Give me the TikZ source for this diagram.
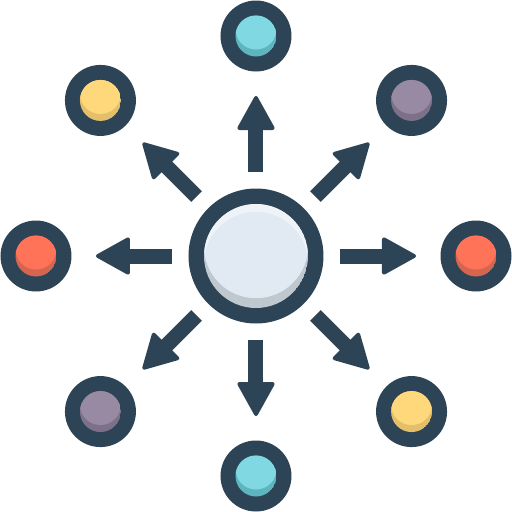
\documentclass[tikz,border=0pt]{standalone}
\definecolor{navy}{HTML}{2D4356}
\definecolor{cyanA}{HTML}{7FD8E2}
\definecolor{cyanB}{HTML}{5DB5BE}
\definecolor{plumA}{HTML}{978AA2}
\definecolor{plumB}{HTML}{7D7089}
\definecolor{coralA}{HTML}{FF7359}
\definecolor{coralB}{HTML}{D6654F}
\definecolor{sunA}{HTML}{FFD87C}
\definecolor{sunB}{HTML}{E3BF6B}
\definecolor{hubA}{HTML}{E1EAF3}
\definecolor{hubB}{HTML}{EEF3F8}
\definecolor{hubC}{HTML}{C0C8CF}
\tikzset{ring/.style={fill=navy}, arrowhead/.style={fill=navy, rounded corners=3.5pt}}

\begin{document}
\begin{tikzpicture}[x=1pt,y=1pt]
\useasboundingbox (-256,-256) rectangle (256,256);

\fill[ring] (0,0) circle (67.5pt);
\begin{scope}
\clip (0,0) circle (52pt);
\fill[hubC] (0,0) circle (52pt);
\fill[hubB] (0,10) circle (52pt);
\clip (0,10) circle (52pt);
\fill[hubA] (0,-8) circle (52pt);
\end{scope}

\foreach \ang/\main/\shade in {90/cyanA/cyanB, 45/plumA/plumB, 0/coralA/coralB, -45/sunA/sunB,
  -90/cyanA/cyanB, -135/plumA/plumB, 180/coralA/coralB, 135/sunA/sunB}
{
  \begin{scope}[shift={(\ang:220)}]
    \fill[ring] (0,0) circle (35.5pt);
    \clip (0,0) circle (20.5pt);
    \fill[\shade] (0,0) circle (20.5pt);
    \fill[\main] (0,7) circle (20.5pt);
  \end{scope}
  \begin{scope}[rotate=\ang]
    \fill[navy] (84,-7.5) rectangle (130,7.5);
    \fill[arrowhead] (126,-20) -- (162,0) -- (126,20) -- cycle;
  \end{scope}
}
\end{tikzpicture}
\end{document}
